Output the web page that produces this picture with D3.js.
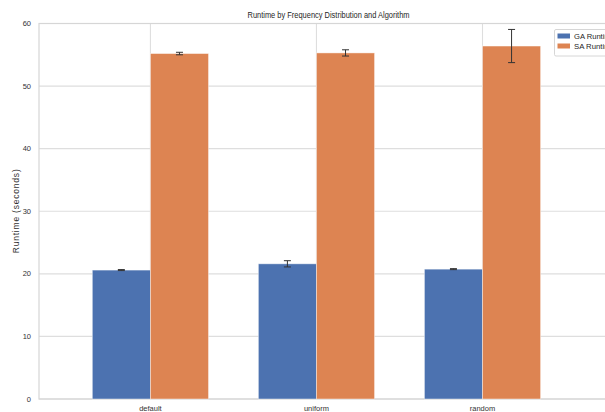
<!DOCTYPE html>
<html>
<head>
<meta charset="utf-8">
<script src="https://cdn.jsdelivr.net/npm/d3@7"></script>
<style>
  html, body { margin: 0; padding: 0; background: #fff; }
  svg { display: block; }
</style>
</head>
<body>
<svg id="chart" width="605" height="412"></svg>
<script>
// ---- data ----
const categories = ["default", "uniform", "random"];
const seriesNames = ["GA Runtime", "SA Runtime"];
const gaValues = [20.6, 21.6, 20.75];
const gaErrors = [0.08, 0.5, 0.08];
const saValues = [55.2, 55.3, 56.4];
const saErrors = [0.2, 0.5, 2.65];
const yTicks = [0, 10, 20, 30, 40, 50, 60];
const colors = ["#4c72b0", "#dd8452"];
const barWidth = 0.35;

(function () {
// ---- layout ----
const svg = d3.select("#chart");
const pLeft = 39, pRight = 618, pTop = 23.5, pBottom = 399;
const font = "'Liberation Sans', Arial, sans-serif";

const x = d3.scaleLinear().domain([-0.321, 3.166]).range([pLeft, pRight]);
const y = d3.scaleLinear().domain([0, 60]).range([pBottom, pTop]);

// grid lines (horizontal)
svg.append("g").selectAll("line").data(yTicks).join("line")
  .attr("x1", pLeft).attr("x2", pRight)
  .attr("y1", d => y(d)).attr("y2", d => y(d))
  .attr("stroke", "#dedede").attr("stroke-width", 1.1);

// grid lines (vertical at category ticks)
svg.append("g").selectAll("line").data(categories).join("line")
  .attr("x1", (d, i) => x(i + barWidth)).attr("x2", (d, i) => x(i + barWidth))
  .attr("y1", pTop).attr("y2", pBottom)
  .attr("stroke", "#dedede").attr("stroke-width", 1.1);

// spines
svg.append("rect")
  .attr("x", pLeft).attr("y", pTop)
  .attr("width", pRight - pLeft).attr("height", pBottom - pTop)
  .attr("fill", "none").attr("stroke", "#d6d6d6").attr("stroke-width", 1.2);

// bars
const series = [
  { values: gaValues, errors: gaErrors, offset: 0, color: colors[0] },
  { values: saValues, errors: saErrors, offset: barWidth, color: colors[1] }
];
series.forEach(s => {
  const g = svg.append("g");
  g.selectAll("rect").data(s.values).join("rect")
    .attr("x", (d, i) => x(i + s.offset))
    .attr("width", x(barWidth) - x(0))
    .attr("y", d => y(d))
    .attr("height", d => y(0) - y(d))
    .attr("fill", s.color)
    .attr("stroke", "#ffffff").attr("stroke-opacity", 0.55).attr("stroke-width", 0.8);
});

// error bars
series.forEach(s => {
  const g = svg.append("g").attr("stroke", "#333").attr("stroke-width", 1);
  s.values.forEach((v, i) => {
    const cx = x(i + s.offset + barWidth / 2);
    const e = s.errors[i];
    g.append("line").attr("x1", cx).attr("x2", cx).attr("y1", y(v - e)).attr("y2", y(v + e));
    g.append("line").attr("x1", cx - 3.5).attr("x2", cx + 3.5).attr("y1", y(v - e)).attr("y2", y(v - e));
    g.append("line").attr("x1", cx - 3.5).attr("x2", cx + 3.5).attr("y1", y(v + e)).attr("y2", y(v + e));
  });
});

// y tick labels
svg.append("g").selectAll("text").data(yTicks).join("text")
  .attr("x", 31).attr("y", d => y(d) + 2.5)
  .attr("text-anchor", "end")
  .attr("font-family", font).attr("font-size", 7.5)
  .attr("fill", "#333")
  .text(d => d);

// x tick labels
svg.append("g").selectAll("text").data(categories).join("text")
  .attr("x", (d, i) => x(i + barWidth)).attr("y", 411)
  .attr("text-anchor", "middle")
  .attr("font-family", font).attr("font-size", 7.5)
  .attr("fill", "#333")
  .text(d => d);

// title
svg.append("text")
  .attr("x", (pLeft + pRight) / 2).attr("y", 18)
  .attr("text-anchor", "middle")
  .attr("font-family", font).attr("font-size", 9.5)
  .attr("fill", "#262626")
  .attr("textLength", 162).attr("lengthAdjust", "spacingAndGlyphs")
  .text("Runtime by Frequency Distribution and Algorithm");

// y axis label
svg.append("text")
  .attr("transform", `translate(19, ${(pTop + pBottom) / 2}) rotate(-90)`)
  .attr("text-anchor", "middle")
  .attr("font-family", font).attr("font-size", 8.5)
  .attr("fill", "#333")
  .attr("textLength", 84).attr("lengthAdjust", "spacing")
  .text("Runtime (seconds)");

// legend
const lg = svg.append("g");
lg.append("rect")
  .attr("x", 554.5).attr("y", 29.5).attr("width", 70).attr("height", 26.5)
  .attr("rx", 1.5)
  .attr("fill", "#fff").attr("stroke", "#cccccc").attr("stroke-width", 0.8);
seriesNames.forEach((name, i) => {
  const yy = 36 + i * 10;
  lg.append("rect")
    .attr("x", 557.5).attr("y", yy - 2.5).attr("width", 12.5).attr("height", 5)
    .attr("fill", colors[i]);
  lg.append("text")
    .attr("x", 574).attr("y", yy + 2.7)
    .attr("font-family", font).attr("font-size", 7.8)
    .attr("fill", "#262626")
    .attr("textLength", 41).attr("lengthAdjust", "spacingAndGlyphs")
    .text(name);
});
})();
</script>
</body>
</html>
